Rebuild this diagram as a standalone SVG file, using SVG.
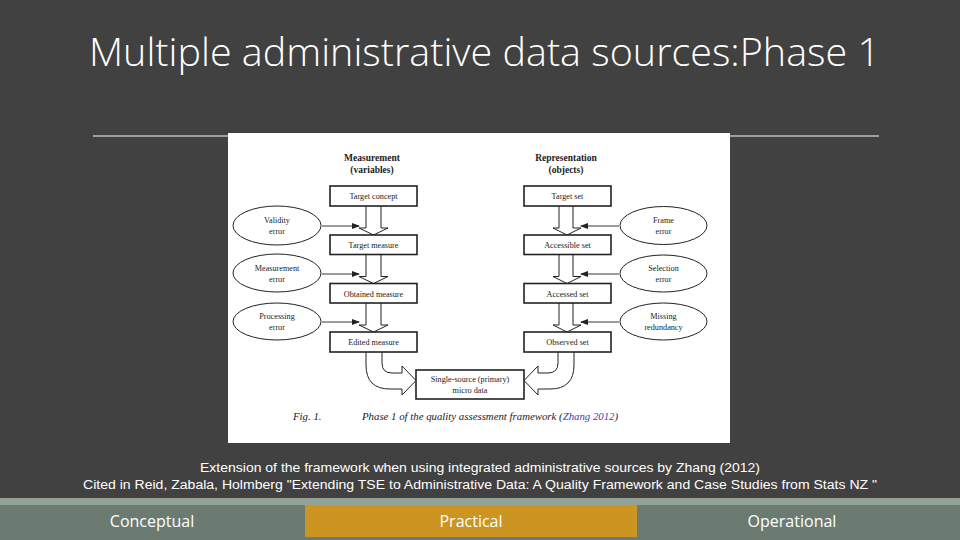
<svg xmlns="http://www.w3.org/2000/svg" width="960" height="540" viewBox="0 0 960 540">
<defs>
<marker id="ah" markerWidth="8" markerHeight="6" refX="7" refY="3" orient="auto" markerUnits="userSpaceOnUse">
<path d="M0,0 L8,3 L0,6 Z" fill="#222"/>
</marker>
<style>
.bx{fill:#fff;stroke:#222;stroke-width:1.6}
.el{fill:#fff;stroke:#222;stroke-width:1}
.ha{fill:#fff;stroke:#222;stroke-width:1}
.ln{stroke:#222;stroke-width:0.9;fill:none}
.t{font-family:"Liberation Serif",serif;font-size:8.2px;fill:#222;text-anchor:middle}
.h{font-family:"Liberation Serif",serif;font-size:9.5px;font-weight:bold;fill:#222;text-anchor:middle}
.cap{font-family:"Liberation Serif",serif;font-size:10.8px;font-style:italic;fill:#222}
.w{font-family:"Liberation Sans",Arial,sans-serif;font-size:12.5px;fill:#fff;text-anchor:middle}
.tab{font-family:"Open Sans",sans-serif;font-size:16px;fill:#fff;text-anchor:middle}
</style>
</defs>
<rect width="960" height="540" fill="#414141"/>
<text x="89" y="66" font-family="'Open Sans',sans-serif" font-weight="300" font-size="38" fill="#fff" textLength="791" lengthAdjust="spacingAndGlyphs">Multiple administrative data sources:Phase 1</text>
<line x1="93" y1="136" x2="879" y2="136" stroke="#fff" stroke-width="1"/>
<rect x="228" y="133" width="502" height="310" fill="#fff"/>
<text class="h" x="372" y="161">Measurement</text>
<text class="h" x="372" y="173">(variables)</text>
<text class="h" x="566" y="161">Representation</text>
<text class="h" x="566" y="173">(objects)</text>
<g id="connectors">
<path class="ha" d="M366,206 L366,228 L359,228 L373.5,235 L388,228 L381,228 L381,206"/>
<path class="ha" d="M366,254.5 L366,276.5 L359,276.5 L373.5,283.5 L388,276.5 L381,276.5 L381,254.5"/>
<path class="ha" d="M366,303 L366,325 L359,325 L373.5,332 L388,325 L381,325 L381,303"/>
<path class="ha" d="M559,206 L559,228 L553,228 L567,235 L581,228 L573,228 L573,206"/>
<path class="ha" d="M559,254.5 L559,276.5 L553,276.5 L567,283.5 L581,276.5 L573,276.5 L573,254.5"/>
<path class="ha" d="M559,303 L559,325 L553,325 L567,332 L581,325 L573,325 L573,303"/>
<path class="ha" d="M366,352 L366,365 Q366,389 390,389 L402,389 L402,395 L416,380.5 L402,366 L402,373 L392,373 Q382,373 382,363 L382,352"/>
<path class="ha" d="M574,352 L574,365 Q574,389 550,389 L538,389 L538,395 L524,380.5 L538,366 L538,373 L548,373 Q558,373 558,363 L558,352"/>
<line class="ln" x1="322" y1="226" x2="359" y2="226" marker-end="url(#ah)"/>
<line class="ln" x1="322" y1="274" x2="359" y2="274" marker-end="url(#ah)"/>
<line class="ln" x1="322" y1="322" x2="359" y2="322" marker-end="url(#ah)"/>
<line class="ln" x1="619" y1="226" x2="581" y2="226" marker-end="url(#ah)"/>
<line class="ln" x1="619" y1="274" x2="581" y2="274" marker-end="url(#ah)"/>
<line class="ln" x1="619" y1="322" x2="581" y2="322" marker-end="url(#ah)"/>
</g>
<g id="target-concept"><rect class="bx" x="330" y="186" width="87" height="20"/><text class="t" x="373.5" y="199">Target concept</text></g>
<g id="target-measure"><rect class="bx" x="330" y="235" width="87" height="19.5"/><text class="t" x="373.5" y="248">Target measure</text></g>
<g id="obtained-measure"><rect class="bx" x="330" y="283.5" width="87" height="19.5"/><text class="t" x="373.5" y="296.5">Obtained measure</text></g>
<g id="edited-measure"><rect class="bx" x="330" y="332" width="87" height="20"/><text class="t" x="373.5" y="345">Edited measure</text></g>
<g id="target-set"><rect class="bx" x="524" y="186" width="87" height="20"/><text class="t" x="567.5" y="199">Target set</text></g>
<g id="accessible-set"><rect class="bx" x="524" y="235" width="87" height="19.5"/><text class="t" x="567.5" y="248">Accessible set</text></g>
<g id="accessed-set"><rect class="bx" x="524" y="283.5" width="87" height="19.5"/><text class="t" x="567.5" y="296.5">Accessed set</text></g>
<g id="observed-set"><rect class="bx" x="524" y="332" width="87" height="20"/><text class="t" x="567.5" y="345">Observed set</text></g>
<g id="single-source"><rect class="bx" x="416" y="370" width="108" height="29"/><text class="t" x="470" y="382">Single-source (primary)</text><text class="t" x="470" y="393">micro data</text></g>
<g id="validity-error"><ellipse class="el" cx="277" cy="225.5" rx="44" ry="19.5"/><text class="t" x="277" y="223">Validity</text><text class="t" x="277" y="234">error</text></g>
<g id="measurement-error"><ellipse class="el" cx="277" cy="273" rx="44" ry="19"/><text class="t" x="277" y="270.5">Measurement</text><text class="t" x="277" y="281.5">error</text></g>
<g id="processing-error"><ellipse class="el" cx="277" cy="321.5" rx="44" ry="18.5"/><text class="t" x="277" y="319">Processing</text><text class="t" x="277" y="330">error</text></g>
<g id="frame-error"><ellipse class="el" cx="663.5" cy="225.5" rx="43.5" ry="19"/><text class="t" x="663.5" y="223">Frame</text><text class="t" x="663.5" y="234">error</text></g>
<g id="selection-error"><ellipse class="el" cx="663.5" cy="273.5" rx="43.5" ry="18.5"/><text class="t" x="663.5" y="271">Selection</text><text class="t" x="663.5" y="282">error</text></g>
<g id="missing-redundancy"><ellipse class="el" cx="663.5" cy="321.5" rx="43.5" ry="18.5"/><text class="t" x="663.5" y="319">Missing</text><text class="t" x="663.5" y="330">redundancy</text></g>
<text class="cap" x="293" y="420">Fig. 1.<tspan x="362">Phase 1 of the quality assessment framework (</tspan><tspan fill="#3b3bb0">Zhang 2012</tspan>)</text>
<text class="w" x="480" y="472" textLength="560" lengthAdjust="spacingAndGlyphs">Extension of the framework when using integrated administrative sources by Zhang (2012)</text>
<text class="w" x="480" y="489" textLength="794" lengthAdjust="spacingAndGlyphs">Cited in Reid, Zabala, Holmberg "Extending TSE to Administrative Data: A Quality Framework and Case Studies from Stats NZ "</text>
<rect x="0" y="498" width="960" height="7" fill="#93a397"/>
<rect x="0" y="505" width="960" height="35" fill="#6b7b71"/>
<rect x="305" y="505" width="332" height="32" fill="#cc9420"/>
<text class="tab" x="152" y="527">Conceptual</text>
<text class="tab" x="471" y="527" fill="#fbf3d5">Practical</text>
<text class="tab" x="792" y="527">Operational</text>
</svg>
